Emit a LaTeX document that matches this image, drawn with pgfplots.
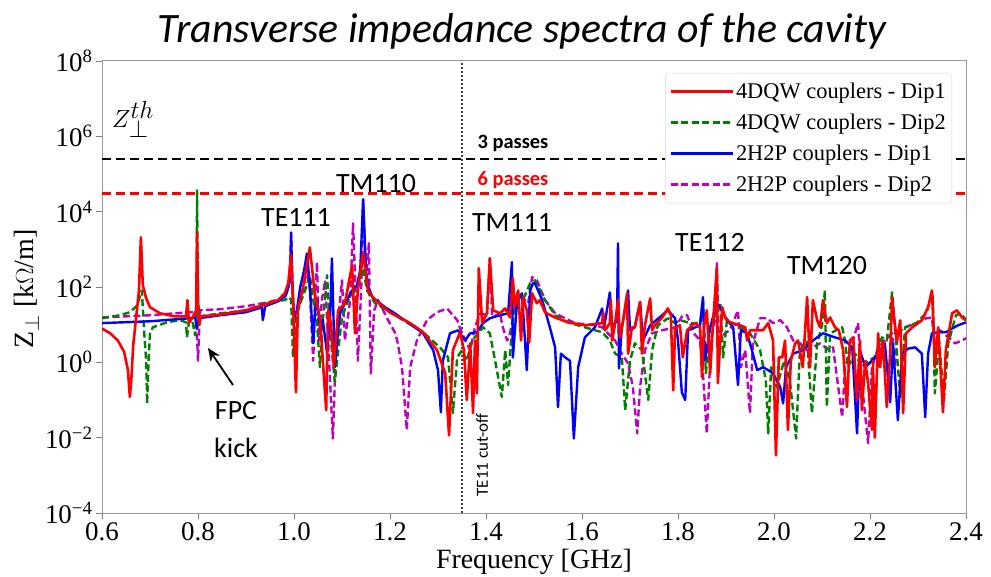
\documentclass[border=0pt]{standalone}
\usepackage{pgfplots}
\pgfplotsset{compat=1.18}
\usetikzlibrary{arrows.meta}
\usepackage{fontspec}
\setmainfont{Liberation Serif}
\newfontfamily\calfont{Carlito}
\definecolor{mplgreen}{rgb}{0,0.5,0}
\definecolor{mplmag}{rgb}{0.75,0,0.75}
\begin{document}
\begin{tikzpicture}
\useasboundingbox (0,0) rectangle (991bp,577bp);
\begin{axis}[
  at={(102bp,64bp)}, anchor=south west,
  scale only axis, width=864bp, height=452bp,
  xmin=0.6, xmax=2.4, ymin=1e-4, ymax=1e8, ymode=log,
  xtick={0.6,0.8,1.0,1.2,1.4,1.6,1.8,2.0,2.2,2.4},
  xticklabels={0.6,0.8,1.0,1.2,1.4,1.6,1.8,2.0,2.2,2.4},
  ytick={1e-4,1e-2,1,1e2,1e4,1e6,1e8},
  yticklabels={10\textsuperscript{−4},10\textsuperscript{−2},10\textsuperscript{0},10\textsuperscript{2},10\textsuperscript{4},10\textsuperscript{6},10\textsuperscript{8}},
  yminorticks=false, xminorticks=false,
  tick pos=left, tick align=outside, major tick length=6bp,
  every tick/.style={gray, line width=0.9bp},
  axis line style={gray!80, line width=1bp},
  ticklabel style={font=\fontsize{27}{30}\selectfont},
  legend style={at={(1,1)}, anchor=north east, xshift=-14bp, yshift=-12bp,
    draw=gray!30, rounded corners=4bp, fill=white,
    font=\fontsize{22.5}{26}\selectfont, inner xsep=4bp, inner ysep=3bp,
    cells={anchor=west}, nodes={minimum height=31bp, inner ysep=0bp}},
  legend image code/.code={\draw[#1] (0bp,0bp) -- (48bp,0bp); \path (0bp,0bp) -- (62bp,0bp);},
  every axis plot/.append style={line join=round},
]
\addlegendimage{red, line width=2.6bp}
\addlegendentry{4DQW couplers - Dip1}
\addlegendimage{mplgreen, line width=2.4bp, dash pattern=on 7bp off 3.5bp}
\addlegendentry{4DQW couplers - Dip2}
\addlegendimage{blue, line width=2.4bp}
\addlegendentry{2H2P couplers - Dip1}
\addlegendimage{mplmag, line width=2.4bp, dash pattern=on 7bp off 3.5bp}
\addlegendentry{2H2P couplers - Dip2}

% threshold impedances
\addplot[black, line width=2.6bp, dash pattern=on 9bp off 5bp, forget plot] coordinates {(0.6,2.5e5)(2.4,2.5e5)};
\addplot[red, line width=2.6bp, dash pattern=on 9bp off 5bp, forget plot] coordinates {(0.6,3e4)(2.4,3e4)};

% TE11 cut-off of the beam pipe
\draw[gray!50!black, line width=1.1bp, dash pattern=on 2bp off 2bp] (axis cs:1.35,1e-4) -- (axis cs:1.35,1e8);

% 2H2P couplers - Dip2
\addplot[mplmag, line width=2.4bp, dash pattern=on 7bp off 3.5bp, forget plot] coordinates {
(0.600,15.5)(0.700,17.8)(0.783,21.4)(0.796,21.4)(0.800,1.1)(0.804,24)(0.846,25.7)(0.900,30.9)(0.950,40)(0.981,54)(0.990,110)(0.994,2340)(0.998,45)(1.002,1.5)(1.008,24)(1.019,81)(1.027,316)(1.033,81)(1.040,1.1)(1.044,45)(1.048,457)(1.052,3.8)(1.058,45)(1.065,151)(1.071,3.8)(1.081,0.0095)(1.088,3.8)(1.096,45)(1.100,151)(1.106,3.8)(1.117,45)(1.123,4900)(1.129,45)(1.133,1.1)(1.140,81)(1.144,20000)(1.150,151)(1.156,1450)(1.160,0.51)(1.167,24)(1.175,45)(1.196,13.2)(1.210,6.3)(1.215,3.8)(1.225,0.74)(1.235,0.016)(1.242,0.74)(1.256,3.8)(1.277,13.2)(1.298,21.4)(1.319,26.9)(1.340,13.2)(1.350,5.9)(1.367,2.1)(1.377,8.5)(1.388,20)(1.402,17.8)(1.408,575)(1.413,15.5)(1.429,20)(1.435,8.5)(1.444,3.8)(1.450,5.9)(1.465,54)(1.475,54)(1.488,37)(1.496,182)(1.506,151)(1.523,45)(1.544,20)(1.585,11)(1.627,9.6)(1.642,8.5)(1.654,5.9)(1.669,3.8)(1.683,1.7)(1.696,0.93)(1.706,0.22)(1.715,0.013)(1.721,0.22)(1.731,2.1)(1.746,5.9)(1.767,7.1)(1.794,8.5)(1.810,17.8)(1.819,17.8)(1.833,5.9)(1.846,3.8)(1.852,0.51)(1.860,0.013)(1.869,3.8)(1.877,13.2)(1.881,427)(1.885,3.8)(1.898,5.9)(1.908,7.1)(1.925,24)(1.931,0.74)(1.940,2.1)(1.950,0.045)(1.956,3.2)(1.971,14.8)(1.985,14.8)(1.998,11)(2.013,13.2)(2.027,8.5)(2.040,3.8)(2.054,3.2)(2.069,2.1)(2.081,2.5)(2.096,3.2)(2.115,2.1)(2.123,2.5)(2.142,0.035)(2.148,0.74)(2.163,3.2)(2.175,11)(2.183,0.28)(2.196,0.0071)(2.204,0.74)(2.217,2.5)(2.231,3.8)(2.246,5.9)(2.252,0.74)(2.258,5.9)(2.273,8.5)(2.296,11)(2.317,14.8)(2.329,15.5)(2.335,2.5)(2.346,7.1)(2.363,4.6)(2.377,3.2)(2.392,3.8)(2.400,4.4)
};

% 4DQW couplers - Dip2
\addplot[mplgreen, line width=2.4bp, dash pattern=on 7bp off 3.5bp, forget plot] coordinates {
(0.600,14.8)(0.637,17.8)(0.658,21.4)(0.673,32)(0.683,81)(0.688,5.9)(0.692,1.1)(0.694,0.081)(0.697,1.1)(0.700,5.9)(0.706,8.5)(0.735,11.5)(0.763,13.2)(0.775,11.5)(0.777,4.6)(0.781,11.5)(0.788,13.2)(0.794,5.2)(0.797,13.2)(0.798,37000)(0.800,37)(0.804,16.6)(0.846,20)(0.900,24)(0.950,40)(0.981,45)(0.990,54)(0.994,45)(0.998,1.35)(1.002,13.2)(1.013,37)(1.023,81)(1.033,204)(1.040,45)(1.048,11)(1.054,0.74)(1.060,13.2)(1.069,204)(1.075,7.1)(1.085,0.30)(1.092,2.1)(1.100,15.5)(1.113,45)(1.127,81)(1.138,151)(1.144,316)(1.152,81)(1.169,37)(1.200,21.4)(1.269,6.3)(1.304,2.5)(1.321,1.35)(1.331,0.045)(1.340,1.35)(1.350,2.1)(1.360,1.1)(1.371,3.8)(1.394,8.5)(1.408,5.9)(1.419,1.1)(1.433,0.12)(1.440,2.1)(1.446,0.25)(1.454,8.5)(1.465,68)(1.477,45)(1.492,126)(1.502,151)(1.523,45)(1.544,17.8)(1.571,11.5)(1.606,8.5)(1.627,7.1)(1.642,6.3)(1.658,3.8)(1.669,1.7)(1.683,1.35)(1.690,0.054)(1.700,1.1)(1.710,3.2)(1.725,2.1)(1.738,0.1)(1.746,2.1)(1.758,9.6)(1.779,14.8)(1.794,11)(1.804,13.2)(1.825,11)(1.846,11)(1.852,45)(1.858,0.51)(1.867,8.5)(1.888,37)(1.894,1.35)(1.902,13.2)(1.929,8.5)(1.950,5.9)(1.971,2.1)(1.983,0.33)(1.988,0.013)(1.994,0.74)(2.006,0.22)(2.021,1.1)(2.033,0.33)(2.046,0.0095)(2.054,2.1)(2.069,3.8)(2.079,0.045)(2.090,3.2)(2.100,9.6)(2.106,81)(2.110,0.065)(2.117,5.9)(2.142,8.5)(2.148,3.8)(2.154,0.74)(2.169,1.7)(2.183,0.74)(2.196,1.1)(2.210,1.35)(2.225,4.6)(2.235,3.8)(2.246,72)(2.252,8.5)(2.263,0.12)(2.273,8.5)(2.296,11)(2.317,20)(2.331,68)(2.335,0.15)(2.344,3.8)(2.354,0.1)(2.363,3.2)(2.379,17.8)(2.390,20)(2.400,13.2)
};

% 2H2P couplers - Dip1
\addplot[blue, line width=2.4bp, forget plot] coordinates {
(0.600,11)(0.700,12.3)(0.783,14.8)(0.794,15.5)(0.798,7.9)(0.802,14.8)(0.846,17.8)(0.900,21.4)(0.933,28.8)(0.935,13.2)(0.940,30.9)(0.967,41.7)(0.983,60)(0.992,151)(0.994,2820)(0.996,151)(1.000,15.5)(1.006,24)(1.013,100)(1.021,275)(1.027,776)(1.033,110)(1.040,3.2)(1.044,24)(1.048,45)(1.054,8.5)(1.060,13.2)(1.069,1.7)(1.075,13.2)(1.079,575)(1.085,0.74)(1.092,7.1)(1.096,20)(1.106,37)(1.121,81)(1.131,110)(1.138,275)(1.144,21400)(1.150,275)(1.154,110)(1.163,54)(1.190,28.8)(1.210,20)(1.269,5.9)(1.290,2.1)(1.300,0.62)(1.306,0.047)(1.310,1.1)(1.325,5.9)(1.342,7.1)(1.356,3.8)(1.367,5.9)(1.381,6.3)(1.394,11)(1.408,14.8)(1.429,17.8)(1.446,20)(1.454,457)(1.456,1.35)(1.465,45)(1.475,68)(1.485,0.62)(1.492,81)(1.498,126)(1.502,126)(1.517,45)(1.533,8.5)(1.544,2.5)(1.550,0.065)(1.556,1.7)(1.565,1.35)(1.575,1.1)(1.583,0.0095)(1.592,0.74)(1.606,4.6)(1.627,8.5)(1.642,26.9)(1.646,8.5)(1.658,72)(1.663,8.5)(1.673,13.2)(1.675,1450)(1.677,0.69)(1.683,8.5)(1.696,81)(1.700,7.1)(1.710,8.5)(1.721,40)(1.727,3.8)(1.742,9.6)(1.767,17.8)(1.779,24)(1.794,14.8)(1.800,3.8)(1.808,0.16)(1.815,0.1)(1.821,7.1)(1.846,9.6)(1.852,54)(1.856,1.1)(1.867,8.5)(1.881,37)(1.888,28.8)(1.902,13.2)(1.915,8.5)(1.925,0.25)(1.931,7.1)(1.944,5.9)(1.954,2.1)(1.965,0.62)(1.977,0.74)(1.988,0.62)(1.998,0.51)(2.013,0.22)(2.019,0.081)(2.025,0.74)(2.040,1.7)(2.060,2.1)(2.081,3.8)(2.102,5.9)(2.127,4.6)(2.148,3.8)(2.163,2.5)(2.173,0.013)(2.179,2.1)(2.190,0.74)(2.204,1.1)(2.217,1.7)(2.231,3.2)(2.242,0.087)(2.248,3.2)(2.258,0.029)(2.267,1.7)(2.279,2.3)(2.294,2.5)(2.308,1.7)(2.315,0.035)(2.321,1.7)(2.329,5.9)(2.342,6.3)(2.358,6.3)(2.371,7.9)(2.383,9.6)(2.400,11.5)
};

% 4DQW couplers - Dip1
\addplot[red, line width=2.6bp, forget plot] coordinates {
(0.600,7.9)(0.617,5.9)(0.633,3.8)(0.646,1.9)(0.654,0.63)(0.658,0.12)(0.661,0.33)(0.665,2.8)(0.671,15)(0.677,81)(0.681,2090)(0.685,112)(0.692,50)(0.700,29)(0.721,20)(0.752,16.6)(0.775,16.6)(0.778,45)(0.781,11.5)(0.788,15)(0.796,24)(0.798,2820)(0.800,45)(0.802,9.6)(0.806,16.6)(0.846,18.6)(0.900,24)(0.933,32)(0.967,45)(0.981,69)(0.988,126)(0.994,708)(0.998,45)(1.004,0.16)(1.008,24)(1.019,100)(1.033,1120)(1.044,54)(1.054,15.5)(1.067,0.054)(1.071,24)(1.077,10.7)(1.083,0.74)(1.092,24)(1.106,37)(1.121,380)(1.127,5.9)(1.133,81)(1.144,832)(1.154,81)(1.169,45)(1.200,21)(1.242,11)(1.269,6.3)(1.298,2.1)(1.315,0.51)(1.323,0.0115)(1.331,2.1)(1.346,6.3)(1.354,2.1)(1.360,0.1)(1.367,3.2)(1.373,0.045)(1.377,3.8)(1.381,0.15)(1.385,316)(1.392,11)(1.402,20)(1.408,575)(1.415,24)(1.429,20)(1.440,27)(1.450,15.5)(1.456,170)(1.460,29)(1.467,81)(1.473,3.8)(1.477,54)(1.485,24)(1.490,3.4)(1.496,68)(1.506,37)(1.512,45)(1.523,21)(1.544,15.5)(1.571,11.5)(1.606,9.6)(1.642,11)(1.644,21)(1.648,7.1)(1.658,11)(1.660,45)(1.663,3.8)(1.669,11)(1.675,45)(1.679,4.6)(1.685,11)(1.694,68)(1.696,1.7)(1.704,8.5)(1.710,8.5)(1.721,40)(1.725,1.7)(1.731,9.6)(1.742,50)(1.746,7.1)(1.752,9.6)(1.767,15.5)(1.779,27)(1.785,18)(1.790,0.18)(1.794,8.5)(1.804,9.6)(1.810,1.35)(1.819,7.1)(1.835,11)(1.846,8.5)(1.850,0.4)(1.854,8.5)(1.860,24)(1.867,0.51)(1.873,11)(1.881,331)(1.883,0.28)(1.892,29)(1.898,15.5)(1.908,11.5)(1.929,9.6)(1.940,8.5)(1.944,3.8)(1.950,7.1)(1.977,7.1)(1.988,11)(1.998,3.8)(2.004,0.0034)(2.010,1.35)(2.017,1.35)(2.023,3.8)(2.029,0.016)(2.035,1.1)(2.044,3.2)(2.050,3.8)(2.060,0.74)(2.069,54)(2.075,0.74)(2.081,45)(2.090,13)(2.096,8.5)(2.102,45)(2.110,11)(2.117,15.5)(2.127,8.5)(2.135,7.1)(2.144,2.1)(2.152,0.065)(2.158,3.8)(2.165,4.6)(2.173,0.1)(2.179,3.8)(2.183,0.054)(2.190,1.1)(2.196,0.28)(2.204,0.016)(2.206,1.1)(2.210,0.01)(2.217,5.9)(2.221,0.74)(2.227,3.8)(2.235,0.065)(2.242,1.7)(2.246,54)(2.250,15.5)(2.256,3.8)(2.263,13)(2.269,0.045)(2.275,5.9)(2.288,8.5)(2.308,13)(2.321,29)(2.329,81)(2.333,5.9)(2.335,0.74)(2.342,8.5)(2.352,0.047)(2.358,2.1)(2.371,20)(2.381,24)(2.392,15.5)(2.400,13)
};
\end{axis}

% title and axis labels
\node[anchor=base, font=\calfont\itshape\fontsize{42}{46}\selectfont] at (522bp,534bp) {Transverse impedance spectra of the cavity};
\node[anchor=base, font=\fontsize{28}{32}\selectfont] at (534bp,9bp) {Frequency [GHz]};
\node[anchor=base, rotate=90, font=\fontsize{28}{32}\selectfont] at (33bp,288bp) {Z$_\perp$ [k$\Omega$/m]};

% mode labels
\begin{scope}[every node/.style={anchor=base, font=\calfont\fontsize{28}{32}\selectfont}]
\node at (296bp,350bp) {TE111};
\node at (376bp,384bp) {TM110};
\node at (512bp,345bp) {TM111};
\node at (710bp,325bp) {TE112};
\node at (827bp,302bp) {TM120};
\node at (236bp,157bp) {FPC};
\node at (236bp,119bp) {kick};
\end{scope}
\node[anchor=base, font=\calfont\bfseries\fontsize{20.5}{23}\selectfont] at (513bp,428bp) {3 passes};
\node[anchor=base, text=red, font=\calfont\bfseries\fontsize{20.5}{23}\selectfont] at (513bp,391bp) {6 passes};
\node[anchor=base west, inner sep=0pt, font=\fontsize{36}{40}\selectfont] at (112bp,449bp) {$Z_{\perp}^{th}$};
\node[rotate=90, font=\calfont\fontsize{17}{20}\selectfont] at (482bp,122bp) {TE11 cut-off};
\draw[-{Stealth[length=13bp,width=11bp]}, line width=1.8bp] (233bp,192bp) -- (208bp,229bp);
\end{tikzpicture}
\end{document}
